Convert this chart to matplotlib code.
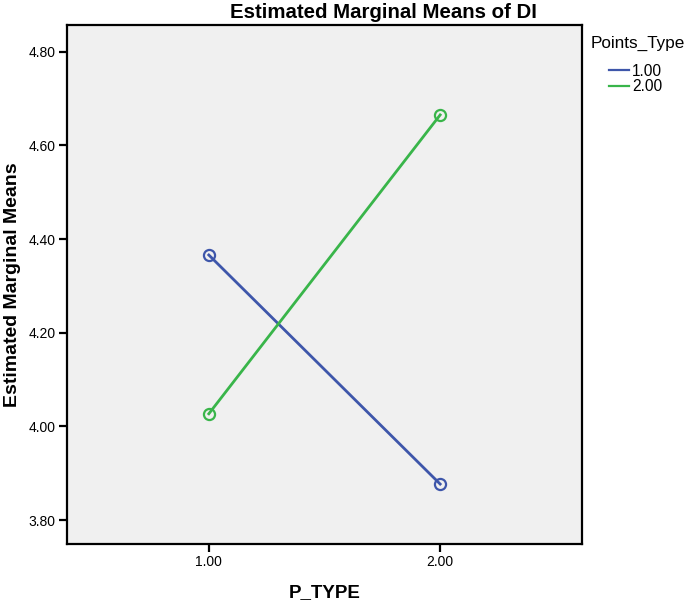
import matplotlib.pyplot as plt
from matplotlib.lines import Line2D

# data
p_type = [1.00, 2.00]
series_labels = ['1.00', '2.00']
means_type1 = [4.366, 3.877]
means_type2 = [4.027, 4.665]
y_ticks = [3.80, 4.00, 4.20, 4.40, 4.60, 4.80]
x_ticks = [1.00, 2.00]

colors = ['#3e56aa', '#39b54a']

plt.rcParams['font.family'] = ['Liberation Sans', 'DejaVu Sans']

fig = plt.figure(figsize=(6.85, 6.05), dpi=100)
ax = fig.add_axes([0.0978, 0.1008, 0.7518, 0.8587])
ax.set_facecolor('#f0f0f0')

for vals, c in zip([means_type1, means_type2], colors):
    ax.plot(p_type, vals, color=c, lw=2, marker='o', ms=8,
            mfc='none', mec=c, mew=1.6)

ax.set_xlim(0.387, 2.613)
ax.set_ylim(3.749, 4.858)
ax.set_xticks(x_ticks)
ax.set_xticklabels([f'{v:.2f}' for v in x_ticks])
ax.set_yticks(y_ticks)
ax.set_yticklabels([f'{v:.2f}' for v in y_ticks])
ax.tick_params(direction='out', length=6, width=1.6, labelsize=10,
               colors='black', pad=2)

for s in ax.spines.values():
    s.set_linewidth(1.6)
    s.set_color('black')

ax.set_xlabel('P_TYPE', fontsize=13.5, fontweight='bold', va='center')
ax.xaxis.set_label_coords(0.5, -0.094)
ax.set_ylabel('Estimated Marginal Means', fontsize=14, fontweight='bold',
              va='center')
ax.yaxis.set_label_coords(-0.106, 0.5)

fig.text(0.56, 0.979, 'Estimated Marginal Means of DI', ha='center',
         va='center', fontsize=14.7, fontweight='bold')

# legend
fig.text(0.862, 0.929, 'Points_Type', ha='left', va='center', fontsize=12.3)
handles = [Line2D([0], [0], color=c, lw=1.6) for c in colors]
fig.legend(handles, series_labels, loc='upper left',
           bbox_to_anchor=(0.889, 0.895), frameon=False, fontsize=11.2,
           handlelength=1.3, handletextpad=0.2, labelspacing=0.05,
           borderaxespad=0, borderpad=0)

fig.savefig('out.png', dpi=100)
